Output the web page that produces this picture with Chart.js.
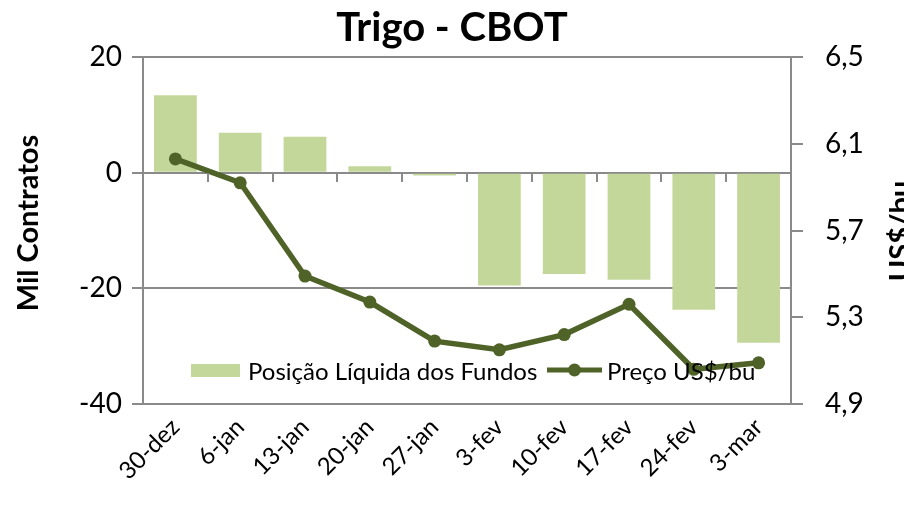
<!DOCTYPE html>
<html>
<head>
<meta charset="utf-8">
<script src="https://cdn.jsdelivr.net/npm/chart.js@4.4.1/dist/chart.umd.min.js"></script>
<style>
  html, body { margin: 0; padding: 0; background: #fff; }
  #wrap { width: 904px; height: 505px; }
</style>
</head>
<body>
<div id="wrap"><canvas id="chart"></canvas></div>
<script>
// data
const weeks = ['30-dez', '6-jan', '13-jan', '20-jan', '27-jan', '3-fev', '10-fev', '17-fev', '24-fev', '3-mar'];
const fundPosition = [13.4, 6.9, 6.2, 1.1, -0.5, -19.5, -17.5, -18.5, -23.7, -29.4];
const priceUsdBu = [6.03, 5.92, 5.49, 5.37, 5.19, 5.15, 5.22, 5.36, 5.06, 5.09];

const leftTicks = [-40, -20, 0, 20];
const rightTicks = [4.9, 5.3, 5.7, 6.1, 6.5];

const FONT = 'Lato, "Open Sans", sans-serif';
const GRID = '#8a8a8a';
const BAR = '#c4d79b';
const LINE = '#4f6228';

// axis titles, legend and the small ticks on the zero line
const extras = {
  id: 'extras',
  afterDatasetsDraw(chart) {
    const ctx = chart.ctx;
    const area = chart.chartArea;
    const y = chart.scales.y;

    // tick marks under the zero line, at category boundaries
    const y0 = Math.round(y.getPixelForValue(0));
    const step = (area.right - area.left) / weeks.length;
    ctx.save();
    ctx.strokeStyle = GRID;
    ctx.lineWidth = 2;
    for (let i = 1; i < weeks.length; i++) {
      const px = Math.round(area.left + i * step);
      ctx.beginPath();
      ctx.moveTo(px, y0);
      ctx.lineTo(px, y0 + 9);
      ctx.stroke();
    }
    ctx.restore();

    // axis titles
    ctx.save();
    ctx.fillStyle = '#000';
    ctx.font = 'bold 29px ' + FONT;
    ctx.textAlign = 'center';
    ctx.textBaseline = 'alphabetic';
    ctx.translate(38, 223);
    ctx.rotate(-Math.PI / 2);
    ctx.fillText('Mil Contratos', 0, 0);
    ctx.restore();

    ctx.save();
    ctx.fillStyle = '#000';
    ctx.font = 'bold 29px ' + FONT;
    ctx.textAlign = 'center';
    ctx.textBaseline = 'alphabetic';
    ctx.translate(910, 231);
    ctx.rotate(-Math.PI / 2);
    ctx.fillText('US$/bu', 0, 0);
    ctx.restore();

    // legend inside the plot
    const ds = chart.data.datasets;
    const barDs = ds.find(d => d.type === 'bar');
    const lineDs = ds.find(d => d.type === 'line');
    ctx.save();
    ctx.font = '24px ' + FONT;
    ctx.textBaseline = 'middle';
    const ly = 371;
    ctx.fillStyle = BAR;
    ctx.fillRect(191, 364, 49, 13);
    ctx.fillStyle = '#000';
    ctx.fillText(barDs.label, 248, ly + 1);

    ctx.strokeStyle = LINE;
    ctx.lineWidth = 5;
    ctx.beginPath();
    ctx.moveTo(547, ly - 1);
    ctx.lineTo(602, ly - 1);
    ctx.stroke();
    ctx.fillStyle = LINE;
    ctx.beginPath();
    ctx.arc(574.5, ly - 1, 6.5, 0, Math.PI * 2);
    ctx.fill();
    ctx.fillStyle = '#000';
    ctx.fillText(lineDs.label, 607, ly + 1);
    ctx.restore();
  }
};

new Chart(document.getElementById('chart'), {
  data: {
    labels: weeks,
    datasets: [
      {
        type: 'line',
        label: 'Preço US$/bu',
        data: priceUsdBu,
        yAxisID: 'y1',
        borderColor: LINE,
        backgroundColor: LINE,
        borderWidth: 5.5,
        pointRadius: 6.5,
        pointBorderWidth: 0,
        tension: 0,
        order: 0
      },
      {
        type: 'bar',
        label: 'Posição Líquida dos Fundos',
        data: fundPosition,
        yAxisID: 'y',
        backgroundColor: BAR,
        barPercentage: 0.66,
        categoryPercentage: 1.0,
        order: 1
      }
    ]
  },
  options: {
    responsive: true,
    maintainAspectRatio: false,
    animation: false,
    layout: { padding: 0 },
    plugins: {
      legend: { display: false },
      tooltip: { enabled: false },
      title: {
        display: true,
        text: 'Trigo - CBOT',
        color: '#000',
        font: { family: FONT, size: 40, weight: 'bold' },
        padding: { top: 4, bottom: 5 }
      }
    },
    scales: {
      x: {
        offset: true,
        grid: { display: false, drawTicks: false },
        border: { display: false },
        ticks: {
          color: '#000',
          font: { family: FONT, size: 24 },
          minRotation: 45,
          maxRotation: 45,
          padding: 9
        },
        afterFit(scale) { scale.height = 101; }
      },
      y: {
        position: 'left',
        min: -40,
        max: 20,
        afterBuildTicks(scale) { scale.ticks = leftTicks.map(v => ({ value: v })); },
        grid: { color: GRID, lineWidth: 2, tickLength: 11 },
        border: { display: true, color: GRID, width: 2 },
        ticks: {
          color: '#000',
          font: { family: FONT, size: 28 },
          padding: 10
        },
        afterFit(scale) { scale.width = 143; }
      },
      y1: {
        position: 'right',
        min: 4.9,
        max: 6.5,
        afterBuildTicks(scale) { scale.ticks = rightTicks.map(v => ({ value: v })); },
        grid: { drawOnChartArea: false, color: GRID, lineWidth: 2, tickLength: 12 },
        border: { display: true, color: GRID, width: 2 },
        ticks: {
          color: '#000',
          font: { family: FONT, size: 28 },
          padding: 22,
          callback: v => v.toFixed(1).replace('.', ',')
        },
        afterFit(scale) { scale.width = 113; }
      }
    }
  },
  plugins: [extras]
});
</script>
</body>
</html>
